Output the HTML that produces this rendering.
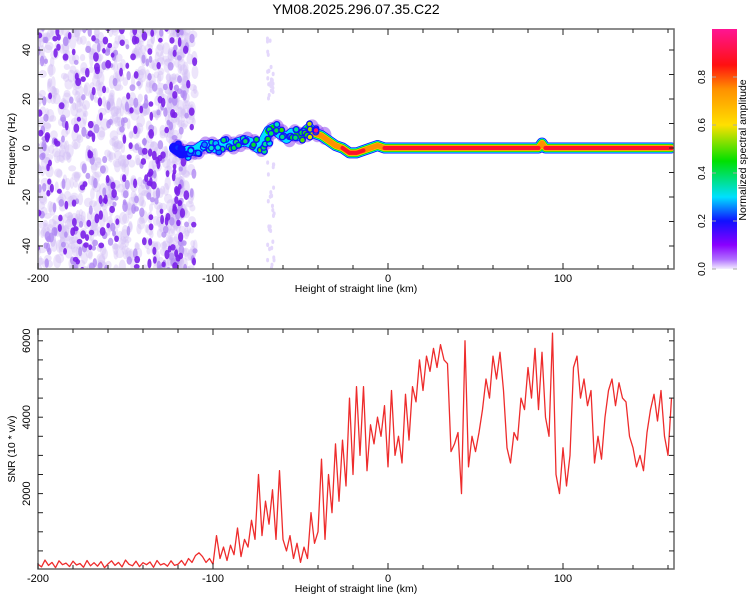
<!DOCTYPE html>
<html><head><meta charset="utf-8">
<style>
body{margin:0;background:#fff;}
svg{display:block;font-family:"Liberation Sans",sans-serif;}
</style></head>
<body>
<svg id="chart" width="750" height="600" viewBox="0 0 750 600">
<defs>
<linearGradient id="cmap" x1="0" y1="1" x2="0" y2="0">
<stop offset="0" stop-color="#f4eeff"/><stop offset="0.04" stop-color="#b070ff"/><stop offset="0.1" stop-color="#8a00ff"/>
<stop offset="0.2" stop-color="#1010ff"/><stop offset="0.3" stop-color="#00e0ff"/><stop offset="0.45" stop-color="#00e000"/>
<stop offset="0.6" stop-color="#ffe000"/><stop offset="0.75" stop-color="#ff9000"/><stop offset="0.85" stop-color="#ff1010"/>
<stop offset="1" stop-color="#ff1493"/>
</linearGradient>
<clipPath id="clipTop"><rect x="38" y="29" width="636" height="240"/></clipPath>
<clipPath id="clipBot"><rect x="38" y="329" width="636" height="240"/></clipPath>
</defs>
<text x="356" y="14" text-anchor="middle" font-size="14">YM08.2025.296.07.35.C22</text>
<g id="topPanel"></g>
<g id="botPanel"></g>
<g id="cbar"></g>
</svg>
<script>
// ---- data ----
const ridgeH = [-122,-118,-114,-110,-106,-102,-98,-94,-90,-86,-82,-78,-74,-71,-68,-65,-62,-58,-55,-52,-48,-45,-42,-38,-34,-30,-26,-22,-18,-14,-10,-6,-2,2,20,50,80,86,88,90,100,130,162];
const ridgeF = [0,-2,-1,-1,1,1,0,2,1,2,3,2,0,3,7,8,6,4,6,5,6,8,6,5,3,1,0,-2,-2,-1,0,1,0,0,0,0,0,0,2,0,0,0,0];
const ridgeA = [0.2,0.25,0.3,0.3,0.35,0.35,0.35,0.38,0.4,0.4,0.45,0.4,0.45,0.4,0.45,0.45,0.4,0.4,0.4,0.45,0.5,0.55,0.85,0.8,0.75,0.85,0.95,0.95,1,0.9,0.85,0.8,0.9,1,1,1,1,1,0.8,1,1,1,1];
const snrX0 = -200, snrStep = 2;
const snrVals = [
150,80,260,120,200,60,240,140,180,90,230,130,170,70,250,110,190,100,220,60,
160,240,120,200,80,260,150,110,230,90,190,140,210,70,250,130,170,100,240,120,
150,250,120,300,200,380,450,350,200,300,150,900,300,600,250,650,400,1100,350,800,
600,1300,800,2500,900,1800,1200,2100,800,2600,800,500,900,300,700,200,600,300,1500,700,
1000,2900,800,2500,1500,3300,1800,3400,2200,4500,2500,4800,3000,4800,2600,3800,3300,4000,3500,4300,
2700,4700,3000,3500,2800,4600,3400,4800,4400,5500,4700,5600,5200,5800,5300,5900,5500,5400,3100,3300,
3600,2000,6000,2700,3500,3100,3600,4200,5000,4500,5600,5000,5700,4700,3200,2800,3600,3400,4500,4200,
5300,4500,5800,4200,5700,4000,3500,6200,2500,2000,3200,2200,3000,5300,5600,4500,5000,4300,4700,2800,
3500,2900,4000,4700,5000,4300,4900,4500,4400,3500,3200,2700,3000,2600,3600,4200,4600,3900,4700,3500,
3000,4500
];
const xTicks=[-200,-100,0,100];
const topYTicks=[-40,-20,0,20,40];
const botYTicks=[2000,4000,6000];
const cbTicks=[0,0.2,0.4,0.6,0.8];

// ---- axes ----
const PL=38, PR=674;
const X=v=>PL+(v+200)*1.75;
const YT=f=>148-f*2.45;
const YB=s=>570-s*0.0382;
const NS='http://www.w3.org/2000/svg';
function el(tag,attrs,parent){const e=document.createElementNS(NS,tag);for(const k in attrs)e.setAttribute(k,attrs[k]);parent.appendChild(e);return e;}
function cmap(a){
  const st=[[0,[244,238,255]],[0.04,[176,112,255]],[0.1,[138,0,255]],[0.2,[16,16,255]],[0.3,[0,224,255]],[0.45,[0,224,0]],[0.6,[255,224,0]],[0.75,[255,144,0]],[0.85,[255,16,16]],[1,[255,20,147]]];
  for(let i=1;i<st.length;i++){if(a<=st[i][0]){const t=(a-st[i-1][0])/(st[i][0]-st[i-1][0]);const c=st[i-1][1].map((v,j)=>Math.round(v+(st[i][1][j]-v)*t));return `rgb(${c})`;}}
  return 'rgb(255,20,147)';
}
const topG=document.getElementById('topPanel'), botG=document.getElementById('botPanel'), cbG=document.getElementById('cbar');

// noise texture (seeded, decorative background of spectrogram)
let seed=12345;function rnd(){seed=(seed*1103515245+12345)&0x7fffffff;return seed/0x7fffffff;}
const gN=el('g',{'clip-path':'url(#clipTop)'},topG);


function noiseH(){let h=-201+rnd()*86; if(rnd()<0.12) h=-126+rnd()*16; return h;}
for(let i=0;i<900;i++){
  el('ellipse',{cx:X(noiseH()),cy:YT(-51+rnd()*102),rx:2+rnd()*2.5,ry:3+rnd()*4,fill:'#d2bff6','fill-opacity':0.4},gN);
}
for(let i=0;i<200;i++){
  el('ellipse',{cx:X(noiseH()),cy:YT(-51+rnd()*102),rx:1.8+rnd()*1.2,ry:2.5+rnd()*3,fill:'#b08af2','fill-opacity':0.8},gN);
}
for(let i=0;i<190;i++){
  el('ellipse',{cx:X(noiseH()),cy:YT(-51+rnd()*102),rx:1.8+rnd()*1.2,ry:2.5+rnd()*2.5,fill:'#7a20e8','fill-opacity':0.9},gN);
}
for(let i=0;i<50;i++){
  const h=-69+rnd()*4, f=(rnd()<0.5?20+rnd()*28:-49+rnd()*45);
  el('ellipse',{cx:X(h),cy:YT(f),rx:1.5,ry:2.2,fill:'#e4d8fc'},gN);
}
// ridge
const gR=el('g',{'clip-path':'url(#clipTop)'},topG);


for(let i=0;i<ridgeH.length;i++){
  if(ridgeH[i]>-36) break;
  el('ellipse',{cx:X(ridgeH[i])+3,cy:YT(ridgeF[i]),rx:7,ry:9,fill:'#8a3cf0','fill-opacity':0.5},gR);
}
const layers=[[0.2,11],[0.3,9.5],[0.45,8],[0.6,6.5],[0.75,5.5],[0.88,4]];
for(const [lv,w] of layers){
  let d='';
  for(let i=0;i<ridgeH.length-1;i++){
    const a=Math.min(ridgeA[i],ridgeA[i+1]);
    if(a<lv) continue;
    d+=`M${X(ridgeH[i])},${YT(ridgeF[i])}L${X(ridgeH[i+1])},${YT(ridgeF[i+1])}`;
  }
  if(d) el('path',{d,stroke:cmap(lv),'stroke-width':w,fill:'none','stroke-linecap':'round'},gR);
}
for(let i=0;i<ridgeH.length;i++){
  if(ridgeH[i]>-40) break;
  for(let k=0;k<3;k++){
    const h=ridgeH[i]+rnd()*4, f=ridgeF[i]+(rnd()-0.5)*4;
    el('circle',{cx:X(h),cy:YT(f),r:3.5,fill:cmap(0.2)},gR);
    el('circle',{cx:X(h),cy:YT(f),r:2.2,fill:cmap(ridgeA[i]*(0.7+rnd()*0.5))},gR);
  }
}

function frame(g,y0,y1,yt,yfun,minorY,ylabel,xlabelY){
  el('rect',{x:PL,y:y0,width:PR-PL,height:y1-y0,fill:'none',stroke:'#666','stroke-width':1.5},g);
  for(let v=-200;v<=160;v+=20){const x=X(v);const L=(v%100===0)?6:4;
    el('line',{x1:x,y1:y0,x2:x,y2:y0+L,stroke:'#222'},g);el('line',{x1:x,y1:y1,x2:x,y2:y1-L,stroke:'#222'},g);}
  for(const v of minorY){const y=yfun(v);if(y<y0||y>y1)continue;
    el('line',{x1:PL,y1:y,x2:PL+5,y2:y,stroke:'#222'},g);el('line',{x1:PR,y1:y,x2:PR-5,y2:y,stroke:'#222'},g);}
  for(const v of xTicks){const t=el('text',{x:X(v),y:y1+13,'text-anchor':'middle','font-size':11},g);t.textContent=v;
    }
  for(const v of yt){const y=yfun(v);const t=el('text',{x:0,y:0,transform:`translate(30,${y}) rotate(-90)`,'text-anchor':'middle','font-size':11},g);t.textContent=v;
    }
  const xl=el('text',{x:356,y:xlabelY,'text-anchor':'middle','font-size':10.5},g);xl.textContent='Height of straight line (km)';
  
  const yl=el('text',{x:0,y:0,transform:`translate(15,${(y0+y1)/2}) rotate(-90)`,'text-anchor':'middle','font-size':10.5},g);yl.textContent=ylabel;
  
}
const mt=[];for(let f=-40;f<=40;f+=10)mt.push(f);
frame(topG,29,269,topYTicks,YT,mt,'Frequency (Hz)',292);

// SNR line
let d='';snrVals.forEach((v,i)=>{d+=(i?'L':'M')+X(snrX0+i*snrStep).toFixed(1)+','+YB(v).toFixed(1);});
const line=el('path',{d,stroke:'#ee2c2c','stroke-width':1.3,fill:'none','stroke-linejoin':'round','clip-path':'url(#clipBot)'},botG);


const mb=[];for(let s=500;s<=6000;s+=500)mb.push(s);
frame(botG,329,569,botYTicks,YB,mb,'SNR (10 * v/v)',592);

// colorbar
const cr=el('rect',{x:712,y:29,width:25,height:240,fill:'url(#cmap)'},cbG);


for(const v of cbTicks){const y=269-v*240;
  el('line',{x1:712,y1:y,x2:716,y2:y,stroke:'#aaa'},cbG);el('line',{x1:733,y1:y,x2:737,y2:y,stroke:'#aaa'},cbG);
  const t=el('text',{x:0,y:0,transform:`translate(705,${y}) rotate(-90)`,'text-anchor':'middle','font-size':10},cbG);t.textContent=v.toFixed(1);
  }
const ct=el('text',{x:0,y:0,transform:'translate(746,150) rotate(-90)','text-anchor':'middle','font-size':10.5},cbG);ct.textContent='Normalized spectral amplitude';


</script>
</body></html>
